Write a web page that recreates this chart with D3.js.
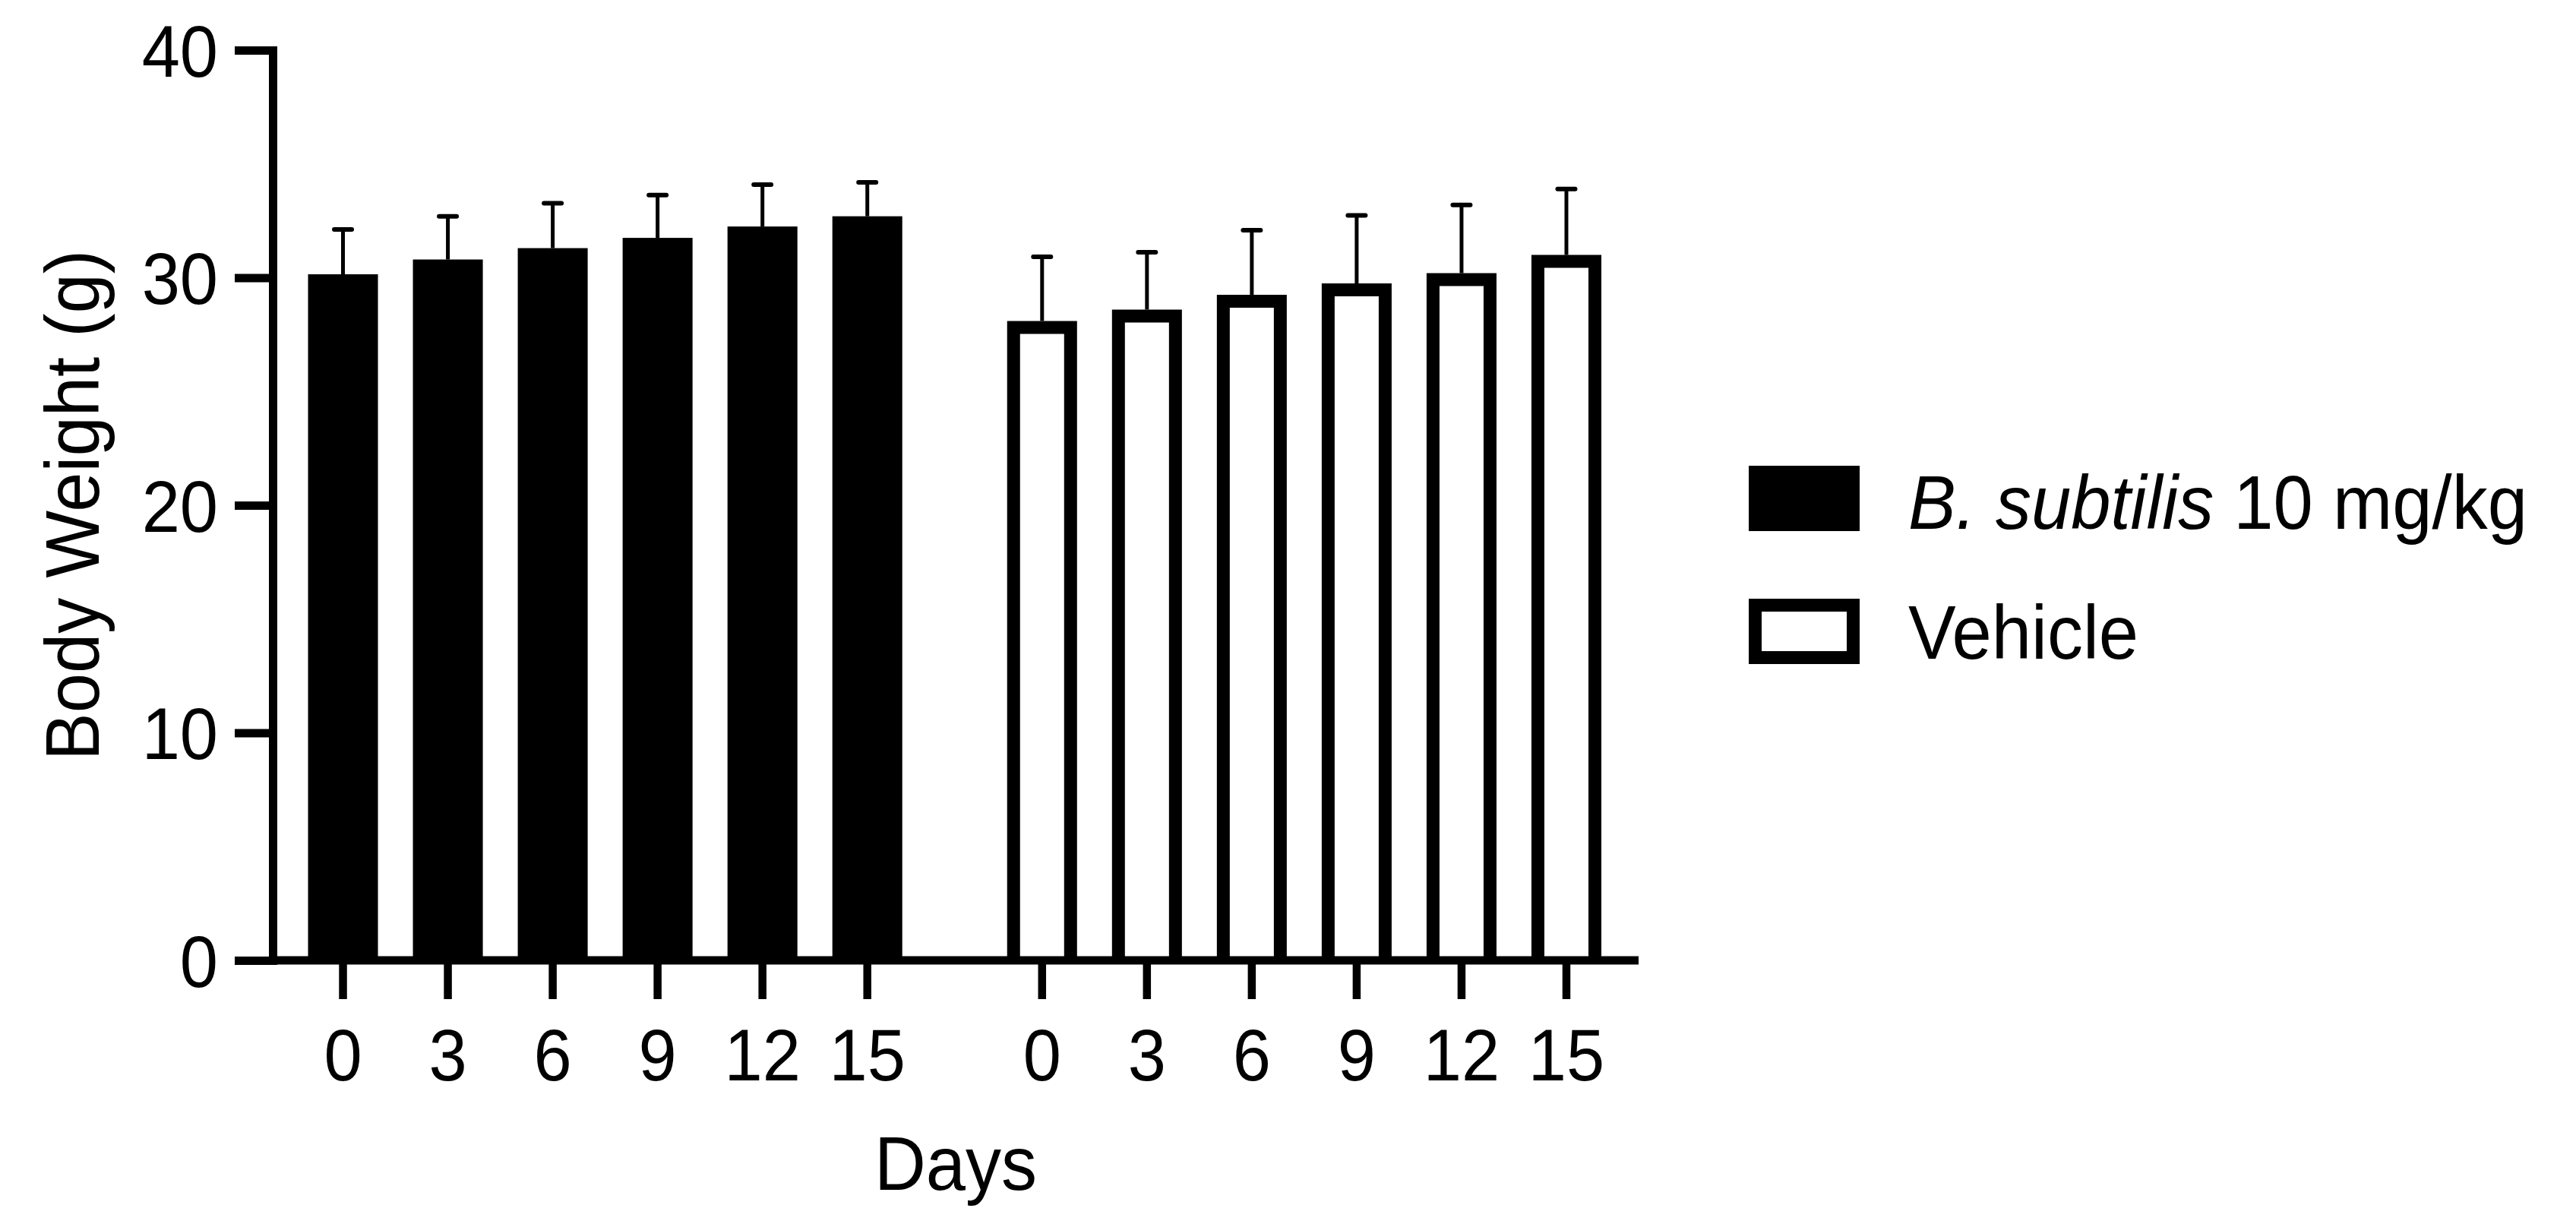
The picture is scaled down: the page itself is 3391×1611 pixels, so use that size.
<!DOCTYPE html>
<html>
<head>
<meta charset="utf-8">
<script src="https://cdn.jsdelivr.net/npm/d3@7"></script>
<style>
  body { margin: 0; background: #fff; }
  text { font-family: "Liberation Sans", Arial, Helvetica, sans-serif; fill: #000; }
</style>
</head>
<body>
<div id="chart"></div>
<script>
// Data
let days = ['0', '3', '6', '9', '12', '15'];
let groupKeys = ['subtilis', 'vehicle'];
let subtilisMean = [30.15, 30.8, 31.3, 31.75, 32.25, 32.7];
let subtilisSD = [1.97, 1.9, 1.97, 1.88, 1.84, 1.49];
let vehicleMean = [28.1, 28.6, 29.25, 29.75, 30.2, 31.0];
let vehicleSD = [2.82, 2.52, 2.84, 2.99, 3.0, 2.9];
let yTicks = [0, 10, 20, 30, 40];

let width = 3391, height = 1611;
let squeeze = 0.94; // glyphs in the picture are a bit narrow

let svg = d3.select('#chart').append('svg')
    .attr('width', width)
    .attr('height', height);

svg.append('rect').attr('width', width).attr('height', height).attr('fill', '#fff');

let y = d3.scaleLinear().domain([0, 40]).range([1264, 66]);

let xGroup = d3.scaleBand()
    .domain(groupKeys)
    .range([382.5, 2131])
    .paddingInner(0.1)
    .paddingOuter(0);

let xDay = d3.scaleBand()
    .domain(days)
    .range([0, xGroup.bandwidth()])
    .paddingInner(1 / 3)
    .paddingOuter(1 / 6);

let series = [
    { key: 'subtilis', mean: subtilisMean, sd: subtilisSD, filled: true },
    { key: 'vehicle', mean: vehicleMean, sd: vehicleSD, filled: false }
];

let bw = xDay.bandwidth();
let border = 17;

// open box outline (no bottom edge) for the hollow bars
function outline(d) {
    let p = d3.path();
    let x0 = xDay(d.day) + border / 2;
    let x1 = xDay(d.day) + bw - border / 2;
    let top = y(d.mean) + border / 2;
    p.moveTo(x0, y(0));
    p.lineTo(x0, top);
    p.lineTo(x1, top);
    p.lineTo(x1, y(0));
    return p.toString();
}

// Bars
series.forEach(function (s) {
    let g = svg.append('g').attr('transform', 'translate(' + xGroup(s.key) + ',0)');
    let rows = days.map((d, i) => ({ day: d, mean: s.mean[i], sd: s.sd[i] }));

    if (s.filled) {
        g.selectAll('rect.bar').data(rows).join('rect')
            .attr('class', 'bar')
            .attr('x', d => xDay(d.day))
            .attr('y', d => y(d.mean))
            .attr('width', bw)
            .attr('height', d => y(0) - y(d.mean))
            .attr('fill', '#000');
    } else {
        g.selectAll('path.bar').data(rows).join('path')
            .attr('class', 'bar')
            .attr('d', outline)
            .attr('fill', '#fff')
            .attr('stroke', '#000')
            .attr('stroke-width', border)
            .attr('stroke-linejoin', 'miter');
    }

    // Error bars (upper only)
    g.selectAll('line.stem').data(rows).join('line')
        .attr('class', 'stem')
        .attr('x1', d => xDay(d.day) + bw / 2)
        .attr('x2', d => xDay(d.day) + bw / 2)
        .attr('y1', d => y(d.mean))
        .attr('y2', d => y(d.mean + d.sd))
        .attr('stroke', '#000')
        .attr('stroke-width', 5);

    g.selectAll('line.cap').data(rows).join('line')
        .attr('class', 'cap')
        .attr('x1', d => xDay(d.day) + bw / 2 - 11.5)
        .attr('x2', d => xDay(d.day) + bw / 2 + 11.5)
        .attr('y1', d => y(d.mean + d.sd))
        .attr('y2', d => y(d.mean + d.sd))
        .attr('stroke', '#000')
        .attr('stroke-width', 6)
        .attr('stroke-linecap', 'round');
});

// X axis line
svg.append('line')
    .attr('x1', 359).attr('x2', 2157)
    .attr('y1', y(0)).attr('y2', y(0))
    .attr('stroke', '#000')
    .attr('stroke-width', 11);

// X ticks per group
groupKeys.forEach(function (k) {
    let ax = svg.append('g')
        .attr('transform', 'translate(' + xGroup(k) + ',' + y(0) + ')')
        .call(d3.axisBottom(xDay).tickSize(51).tickSizeOuter(0));
    ax.select('.domain').remove();
    ax.selectAll('.tick line').attr('stroke', '#000').attr('stroke-width', 10.5);
    ax.selectAll('.tick text')
        .attr('y', null).attr('dy', null)
        .attr('transform', 'translate(0,158) scale(' + squeeze + ',1)')
        .attr('text-anchor', 'middle')
        .style('font-size', '96px')
        .style('font-family', '"Liberation Sans", Arial, sans-serif')
        .attr('fill', '#000');
});

// Y axis
let yAxis = svg.append('g')
    .attr('transform', 'translate(359,0)')
    .call(d3.axisLeft(y).tickValues(yTicks).tickSize(50).tickSizeOuter(0).tickFormat(d3.format('d')));
yAxis.select('.domain')
    .attr('stroke', '#000')
    .attr('stroke-width', 11)
    .attr('stroke-linecap', 'square');
yAxis.selectAll('.tick line').attr('stroke', '#000').attr('stroke-width', 11);
yAxis.selectAll('.tick text')
    .attr('x', null).attr('dy', null)
    .attr('transform', 'translate(-72,34) scale(' + squeeze + ',1)')
    .attr('text-anchor', 'end')
    .style('font-size', '96px')
    .style('font-family', '"Liberation Sans", Arial, sans-serif')
    .attr('fill', '#000');

// Axis titles
svg.append('text')
    .attr('transform', 'translate(1258,1566) scale(' + squeeze + ',1)')
    .attr('text-anchor', 'middle')
    .style('font-size', '100px')
    .text('Days');

svg.append('text')
    .attr('transform', 'translate(130,665) rotate(-90) scale(' + squeeze + ',1)')
    .attr('text-anchor', 'middle')
    .style('font-size', '100px')
    .text('Body Weight (g)');

// Legend
let legend = svg.append('g').attr('transform', 'translate(2302,613)');
legend.append('rect')
    .attr('x', 0).attr('y', 0)
    .attr('width', 146).attr('height', 86)
    .attr('fill', '#000');
legend.append('rect')
    .attr('x', border / 2).attr('y', 175 + border / 2)
    .attr('width', 146 - border).attr('height', 86 - border)
    .attr('fill', '#fff')
    .attr('stroke', '#000')
    .attr('stroke-width', border);

let t1 = legend.append('text')
    .attr('transform', 'translate(210,83) scale(' + squeeze + ',1)')
    .style('font-size', '100px');
t1.append('tspan').style('font-style', 'italic').text('B. subtilis');
t1.append('tspan').text(' 10 mg/kg');

legend.append('text')
    .attr('transform', 'translate(210,254) scale(' + squeeze + ',1)')
    .style('font-size', '100px')
    .text('Vehicle');
</script>
</body>
</html>
